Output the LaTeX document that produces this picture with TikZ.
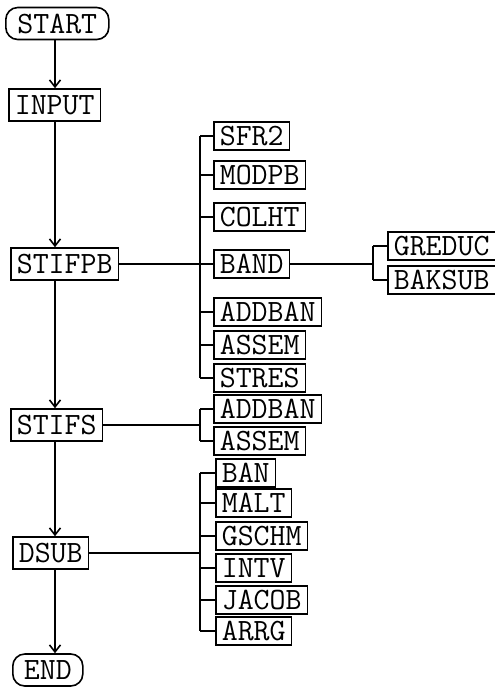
\documentclass[tikz,border=0pt]{standalone}
\usepackage{fontspec}
\usepackage{tikz}
\usetikzlibrary{arrows.meta}
\usetikzlibrary{positioning}
\usetikzlibrary{calc}

\begin{document}
\begin{tikzpicture}[x=1pt, y=-1pt, line width=1.6pt,
    every node/.style={draw, anchor=west, font=\fontsize{31}{33}\selectfont\ttfamily, text height=19pt, text depth=0pt, inner xsep=6pt},
    main/.style={inner ysep=6.5pt},
    sub/.style={inner ysep=4.5pt},
    term/.style={main, rounded corners=12pt},
    flow/.style={-{Straight Barb[length=7pt, width=11pt]}}]
        \useasboundingbox (0,0) rectangle (495,689);

        % x positions of the trunk and of the two bars
        \coordinate (T) at (55,0);
        \coordinate (B1) at (200,0);
        \coordinate (B2) at (373,0);

        % Draw the main column
        \node[term, minimum width=103pt] (START) at (5,23.5) {START};
        \node[main] (INPUT) at (8,105) {INPUT};
        \node[main] (STIFPB) at (10,264) {STIFPB};
        \node[main] (STIFS) at (10,425) {STIFS};
        \node[main] (DSUB) at (12,553) {DSUB};
        \node[term, minimum width=70pt] (END) at (12,670) {END};

        \foreach \a/\b in {START/INPUT, INPUT/STIFPB, STIFPB/STIFS, STIFS/DSUB, DSUB/END}
        {
          \draw[flow] (\a.south -| T) -- (\b.north -| T);
        }

        % Subroutines of STIFPB
        \foreach \n/\t/\y in {P1/SFR2/136, P2/MODPB/175, P3/COLHT/217, P4/BAND/264, P5/ADDBAN/312, P6/ASSEM/345, P7/STRES/378}
        {
          \node[sub] (\n) at (213,\y) {\t};
          \draw (\n.west -| B1) -- (\n.west);
        }
        \draw (P1.west -| B1) -- (P7.west -| B1);
        \draw (STIFPB.east) -- (STIFPB.east -| B1);

        % Subroutines of BAND
        \node[sub] (G1) at (387,246) {GREDUC};
        \node[sub] (G2) at (387,280) {BAKSUB};
        \draw (G1.west -| B2) -- (G1.west);
        \draw (G2.west -| B2) -- (G2.west);
        \draw (G1.west -| B2) -- (G2.west -| B2);
        \draw (P4.east) -- (P4.east -| B2);

        % Subroutines of STIFS
        \foreach \n/\t/\y in {Q1/ADDBAN/409, Q2/ASSEM/441}
        {
          \node[sub] (\n) at (213,\y) {\t};
          \draw (\n.west -| B1) -- (\n.west);
        }
        \draw (Q1.west -| B1) -- (Q2.west -| B1);
        \draw (STIFS.east) -- (STIFS.east -| B1);

        % Subroutines of DSUB
        \foreach \n/\t/\y in {R1/BAN/473, R2/MALT/503, R3/GSCHM/536, R4/INTV/568, R5/JACOB/600, R6/ARRG/631}
        {
          \node[sub] (\n) at (215,\y) {\t};
          \draw (\n.west -| B1) -- (\n.west);
        }
        \draw (R1.west -| B1) -- (R6.west -| B1);
        \draw (DSUB.east) -- (DSUB.east -| B1);
      \end{tikzpicture}
\end{document}
